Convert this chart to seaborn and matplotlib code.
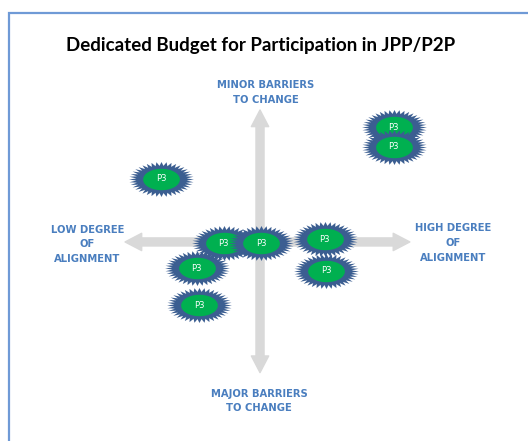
import numpy as np
import matplotlib
matplotlib.use('Agg')
import matplotlib.pyplot as plt
from matplotlib.path import Path
from matplotlib.patches import Rectangle, FancyArrowPatch
import seaborn as sns

# данные: положение проектов (выравнивание / барьеры)
labels = ['P3', 'P3', 'P3', 'P3', 'P3', 'P3', 'P3', 'P3', 'P3']
alignment = [-7.3, -4.5, -4.7, -2.7, 0.1, 4.9, 4.8, 9.9, 9.9]
barriers = [4.8, -4.8, -2.0, -0.1, -0.1, -2.2, 0.2, 8.7, 7.2]

title = 'Dedicated Budget for Participation in JPP/P2P'
axis_labels = ['MINOR BARRIERS\nTO CHANGE', 'MAJOR BARRIERS\nTO CHANGE',
               'LOW DEGREE\nOF\nALIGNMENT', 'HIGH DEGREE\nOF\nALIGNMENT']

x_arrow = (-10.0, 11.1)
y_arrow = (-9.9, 10.0)

sns.set_style('white')

# маркер-звезда (эллипс с зубцами)
n_spikes = 40
ang = np.linspace(0, 2 * np.pi, 2 * n_spikes, endpoint=False)
rad = np.where(np.arange(2 * n_spikes) % 2 == 0, 1.0, 0.78)
star_verts = np.column_stack([np.cos(ang) * rad, np.sin(ang) * rad * 34 / 63])
star_verts = np.vstack([star_verts, star_verts[:1]])
star = Path(star_verts, closed=True)

t = np.linspace(0, 2 * np.pi, 60)
oval = Path(np.column_stack([np.cos(t), np.sin(t) * 21 / 36]), closed=True)

fig = plt.figure(figsize=(5.28, 4.41), dpi=100)
ax = fig.add_axes([0, 0, 1, 1])
ax.set_xlim(-19.26, 19.85)
ax.set_ylim(-15.08, 18.33)
ax.axis('off')

# рамка
fig.add_artist(Rectangle((9 / 528, -0.2), 1.5, 0.2 + 1 - 13 / 441, transform=fig.transFigure,
                         fill=False, edgecolor='#6f9ad6', lw=1.6))

# стрелки осей
arrow_kw = dict(arrowstyle='simple,tail_width=5.8,head_width=12.5,head_length=12',
                color='#d9d9d9', mutation_scale=1, zorder=1, shrinkA=0, shrinkB=0)
for tip in x_arrow:
    ax.add_patch(FancyArrowPatch((0, 0), (tip, 0), **arrow_kw))
for tip in y_arrow:
    ax.add_patch(FancyArrowPatch((0, 0), (0, tip), **arrow_kw))

# проекты
for i, (x, y, lab) in enumerate(zip(alignment, barriers, labels)):
    sns.scatterplot(x=[x], y=[y], marker=star, s=2180, color='#3b5e91', linewidth=0,
                    ax=ax, zorder=3 + 3 * i, legend=False)
    sns.scatterplot(x=[x], y=[y], marker=oval, s=700, color='#00b050', linewidth=0,
                    ax=ax, zorder=4 + 3 * i, legend=False)
    ax.text(x, y, lab, color='white', fontsize=6, ha='center', va='center', zorder=5 + 3 * i)

lab_kw = dict(color='#4a7ebf', fontsize=7.2, fontweight='bold', ha='center', va='center',
              linespacing=1.6, family='DejaVu Sans')
ax.text(0.44, 11.3, axis_labels[0], **lab_kw)
ax.text(-0.07, -12.05, axis_labels[1], **lab_kw)
ax.text(-12.8, -0.19, axis_labels[2], **lab_kw)
ax.text(14.3, -0.08, axis_labels[3], **lab_kw)

fig.text(261 / 528, 1 - 45 / 441, title, fontsize=13.5, fontweight='bold',
         family='Lato', color='black', ha='center', va='center')

fig.savefig('out.png', dpi=100, facecolor='white')
